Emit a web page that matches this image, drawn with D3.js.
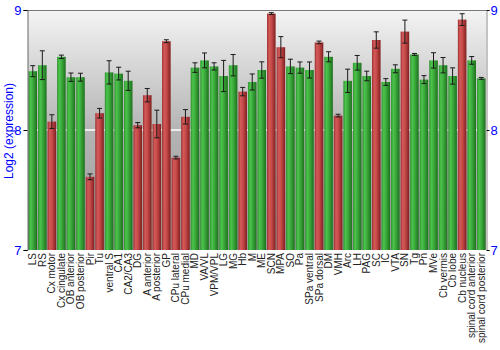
<!DOCTYPE html>
<html>
<head>
<meta charset="utf-8">
<script src="https://cdn.jsdelivr.net/npm/d3@7"></script>
<style>
  html, body { margin: 0; padding: 0; background: #fff; }
  svg { display: block; font-family: "Liberation Sans", Arial, sans-serif; }
</style>
</head>
<body>
<svg id="chart" width="500" height="350"></svg>
<script>
// Brain regions
const regions = ["LS","RS","Cx motor","Cx cingulate","OB anterior","OB posterior","Pir","Tu",
  "ventral S","CA1","CA2/CA3","DG","A anterior","A posterior","GP","CPu lateral","CPu medial",
  "MD","VA/VL","VPM/VPL","LG","MG","Hb","M","ME","SCN","MPA","SO","Pa","SPa ventral",
  "SPa dorsal","DM","VMH","Arc","LH","PAG","SC","IC","VTA","SN","Tg","Pn","MVe",
  "Cb vermis","Cb lobe","Cb nucleus","spinal cord anterior","spinal cord posterior"];

// Mean log2 expression per region
const expression = [8.49,8.54,8.07,8.61,8.44,8.44,7.61,8.14,
  8.48,8.47,8.41,8.04,8.29,8.05,8.74,7.77,8.11,
  8.52,8.58,8.53,8.45,8.54,8.32,8.40,8.50,8.97,8.69,8.53,8.52,8.50,
  8.73,8.61,8.12,8.41,8.56,8.45,8.75,8.40,8.51,8.82,8.63,8.42,8.58,
  8.54,8.45,8.92,8.58,8.43];

// Standard error per region
const stdErr = [0.046,0.12,0.057,0.014,0.035,0.033,0.024,0.04,
  0.097,0.053,0.08,0.022,0.056,0.115,0.012,0.011,0.06,
  0.04,0.062,0.03,0.13,0.089,0.035,0.067,0.068,0.008,0.088,0.06,0.047,0.067,
  0.011,0.042,0.011,0.097,0.061,0.04,0.068,0.028,0.033,0.096,0.008,0.033,0.064,
  0.064,0.068,0.049,0.032,0.008];

// Regions highlighted in red
const highlighted = ["Cx motor","Pir","Tu","DG","A anterior","A posterior","GP","CPu lateral",
  "CPu medial","Hb","SCN","MPA","SPa dorsal","VMH","SC","SN","Cb nucleus"];

const yTicks = [7, 8, 9];

const svg = d3.select("#chart");
const m = { left: 28, right: 14, top: 10, bottom: 100 };
const W = 500, H = 350;
const x0 = m.left, x1 = W - m.right, y0 = m.top, y1 = H - m.bottom;

const x = d3.scaleBand().domain(regions).range([x0, x1]).paddingInner(0.1).paddingOuter(0.05);
const y = d3.scaleLinear().domain([7, 9]).range([y1, y0]);

const defs = svg.append("defs");
const bg = defs.append("linearGradient").attr("id", "bg").attr("x1", 0).attr("y1", 0).attr("x2", 0).attr("y2", 1);
bg.append("stop").attr("offset", "0%").attr("stop-color", "#f4f4f4");
bg.append("stop").attr("offset", "50%").attr("stop-color", "#b4b4b4");
bg.append("stop").attr("offset", "100%").attr("stop-color", "#9a9a9a");

function barGrad(id, dark, mid, light, edge) {
  const g = defs.append("linearGradient").attr("id", id).attr("x1", 0).attr("y1", 0).attr("x2", 1).attr("y2", 0);
  g.append("stop").attr("offset", "0%").attr("stop-color", dark);
  g.append("stop").attr("offset", "25%").attr("stop-color", light);
  g.append("stop").attr("offset", "55%").attr("stop-color", mid);
  g.append("stop").attr("offset", "100%").attr("stop-color", edge);
}
barGrad("gGreen", "#2f8f2f", "#3aa83a", "#4cc44c", "#1d701d");
barGrad("gRed", "#9a2f2f", "#c44848", "#d45a5a", "#7f1f1f");

// plot background
svg.append("rect").attr("x", x0).attr("y", y0).attr("width", x1 - x0).attr("height", y1 - y0)
  .attr("fill", "url(#bg)");

// grid line at 8
svg.append("g").selectAll("line").data(yTicks.filter(t => t > 7 && t < 9)).join("line")
  .attr("x1", x0).attr("x2", x1).attr("y1", d => y(d)).attr("y2", d => y(d))
  .attr("stroke", "#ffffff").attr("stroke-width", 1.5);

// bars
svg.append("g").selectAll("rect").data(regions).join("rect")
  .attr("x", d => x(d)).attr("width", x.bandwidth())
  .attr("y", (d, i) => y(expression[i])).attr("height", (d, i) => y(7) - y(expression[i]))
  .attr("fill", d => highlighted.includes(d) ? "url(#gRed)" : "url(#gGreen)");

// error bars
const eb = svg.append("g").attr("stroke", "#1a1a1a").attr("stroke-width", 1);
regions.forEach((d, i) => {
  const cx = x(d) + x.bandwidth() / 2;
  const lo = y(expression[i] - stdErr[i]), hi = y(expression[i] + stdErr[i]);
  eb.append("line").attr("x1", cx).attr("x2", cx).attr("y1", lo).attr("y2", hi);
  eb.append("line").attr("x1", cx - 2.5).attr("x2", cx + 2.5).attr("y1", lo).attr("y2", lo);
  eb.append("line").attr("x1", cx - 2.5).attr("x2", cx + 2.5).attr("y1", hi).attr("y2", hi);
});

// frame
svg.append("line").attr("x1", x0).attr("x2", x1).attr("y1", y0 + 0.5).attr("y2", y0 + 0.5).attr("stroke", "#777");

// left axis
const la = svg.append("g").attr("transform", `translate(${x0 - 0.5},0)`)
  .call(d3.axisLeft(y).tickValues(yTicks).tickFormat(d3.format("d")).tickSize(4).tickPadding(2));
la.select(".domain").attr("stroke", "#666");
la.selectAll(".tick line").attr("stroke", "#000");
la.selectAll("text").attr("fill", "#0000ff").attr("font-size", 13).attr("font-family", "Liberation Sans, Arial, sans-serif");

// right axis
const ra = svg.append("g").attr("transform", `translate(${x1 + 0.5},0)`)
  .call(d3.axisRight(y).tickValues(yTicks).tickFormat(d3.format("d")).tickSize(3).tickPadding(1));
ra.select(".domain").attr("stroke", "#888");
ra.selectAll(".tick line").attr("stroke", "#000");
ra.selectAll("text").attr("fill", "#0000ff").attr("font-size", 13).attr("font-family", "Liberation Sans, Arial, sans-serif");

// y-axis title
svg.append("text").attr("transform", `translate(12.5,${(y0 + y1) / 2 + 1}) rotate(-90)`)
  .attr("text-anchor", "middle").attr("fill", "#0000ff").attr("font-size", 12)
  .text("Log2 (expression)");

// category labels
svg.append("g").selectAll("text").data(regions).join("text")
  .attr("transform", d => `translate(${x(d) + x.bandwidth() / 2 + 3.5},${y1 + 3}) rotate(-90)`)
  .attr("text-anchor", "end").attr("fill", "#222").attr("font-size", 10)
  .text(d => d);
</script>
</body>
</html>
